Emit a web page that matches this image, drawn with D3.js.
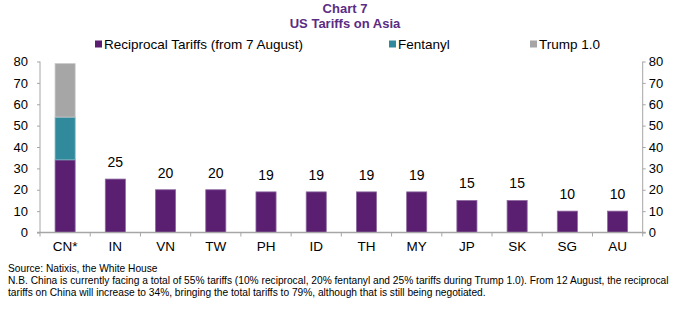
<!DOCTYPE html>
<html><head><meta charset="utf-8">
<script src="https://cdn.jsdelivr.net/npm/d3@7"></script>
<style>
body{margin:0;background:#fff;}
text{font-family:"Liberation Sans",Arial,sans-serif;}
</style></head><body>
<svg id="c" width="690" height="331"></svg>
<script>
const categories = ["CN*","IN","VN","TW","PH","ID","TH","MY","JP","SK","SG","AU"];
const reciprocal = [34,25,20,20,19,19,19,19,15,15,10,10];
const fentanyl   = [20,0,0,0,0,0,0,0,0,0,0,0];
const trump1     = [25,0,0,0,0,0,0,0,0,0,0,0];
const seriesNames = ["Reciprocal Tariffs (from 7 August)","Fentanyl","Trump 1.0"];
const yTicks = [0,10,20,30,40,50,60,70,80];
const colors = ["#5A1F71","#31899C","#A6A6A6"];
const strokes = ["#8E6AA0","#7BB6C4","#C8C8C8"];

const svg = d3.select("#c");
const L = 40, R = 642.7, T = 61.5, B = 232.5;
const x = d3.scaleBand().domain(categories).range([L,R]).paddingInner(0.6).paddingOuter(0.3);
const y = d3.scaleLinear().domain([0,80]).range([B,T]);
const axisCol = "#A6A6A6";

// title
svg.append("text").attr("x",345).attr("y",13).attr("text-anchor","middle")
  .attr("font-size",13).attr("font-weight","bold").attr("fill","#5B2C83").text("Chart 7");
svg.append("text").attr("x",345).attr("y",28).attr("text-anchor","middle")
  .attr("font-size",13).attr("font-weight","bold").attr("fill","#5B2C83").text("US Tariffs on Asia");

// legend
const legX = [95,389,530];
seriesNames.forEach((n,i)=>{
  svg.append("rect").attr("x",legX[i]).attr("y",40.5).attr("width",7).attr("height",7).attr("fill",colors[i]);
  svg.append("text").attr("x",legX[i]+9).attr("y",49).attr("font-size",13.5).attr("fill","#000").text(n);
});

// stacked data
const data = categories.map((c,i)=>({cat:c, r:reciprocal[i], f:fentanyl[i], t:trump1[i]}));
const stack = d3.stack().keys(["r","f","t"])(data);
stack.forEach((layer,k)=>{
  svg.append("g").selectAll("rect").data(layer.filter(d=>d[1]>d[0])).join("rect")
    .attr("x",d=>x(d.data.cat)).attr("width",x.bandwidth())
    .attr("y",d=>y(d[1])).attr("height",d=>y(d[0])-y(d[1]))
    .attr("fill",colors[k]).attr("stroke",strokes[k]).attr("stroke-width",0.8);
});

// value labels (except CN*)
svg.append("g").selectAll("text").data(data.filter(d=>d.cat!=="CN*")).join("text")
  .attr("x",d=>x(d.cat)+x.bandwidth()/2).attr("y",d=>y(d.r)-12)
  .attr("text-anchor","middle").attr("font-size",14).attr("fill","#000").text(d=>d.r);

// axes
const yl = svg.append("g").attr("transform",`translate(${L},0)`)
  .call(d3.axisLeft(y).tickValues(yTicks).tickSize(3).tickPadding(9));
const yr = svg.append("g").attr("transform",`translate(${R},0)`)
  .call(d3.axisRight(y).tickValues(yTicks).tickSize(3).tickPadding(3));
[yl,yr].forEach(g=>{
  g.selectAll("path,line").attr("stroke",axisCol);
  g.select(".domain").attr("d",`M0,${B}V${T}`);
  g.selectAll("text").attr("font-size",13).attr("fill","#000").attr("font-family",null);
});

// x axis
const xb = d3.scaleLinear().domain([0,categories.length]).range([L,R]);
svg.append("line").attr("x1",L-3).attr("x2",R+3).attr("y1",B).attr("y2",B).attr("stroke",axisCol).attr("stroke-width",1.5);
svg.append("g").selectAll("line").data(d3.range(0,categories.length+1)).join("line")
  .attr("x1",d=>xb(d)).attr("x2",d=>xb(d)).attr("y1",B).attr("y2",B+4).attr("stroke",axisCol);
svg.append("g").selectAll("text").data(categories).join("text")
  .attr("x",d=>x(d)+x.bandwidth()/2).attr("y",251).attr("text-anchor","middle")
  .attr("font-size",13.5).attr("fill","#000").text(d=>d);

// footnotes
const notes = ["Source: Natixis, the White House",
 "N.B. China is currently facing a total of 55% tariffs (10% reciprocal, 20% fentanyl and 25% tariffs during Trump 1.0). From 12 August, the reciprocal",
 "tariffs on China will increase to 34%, bringing the total tariffs to 79%, although that is still being negotiated."];
notes.forEach((n,i)=>{
  svg.append("text").attr("x",8).attr("y",272+i*12.2).attr("font-size",10.2)
    .attr("fill","#000").text(n);
});
</script></body></html>
